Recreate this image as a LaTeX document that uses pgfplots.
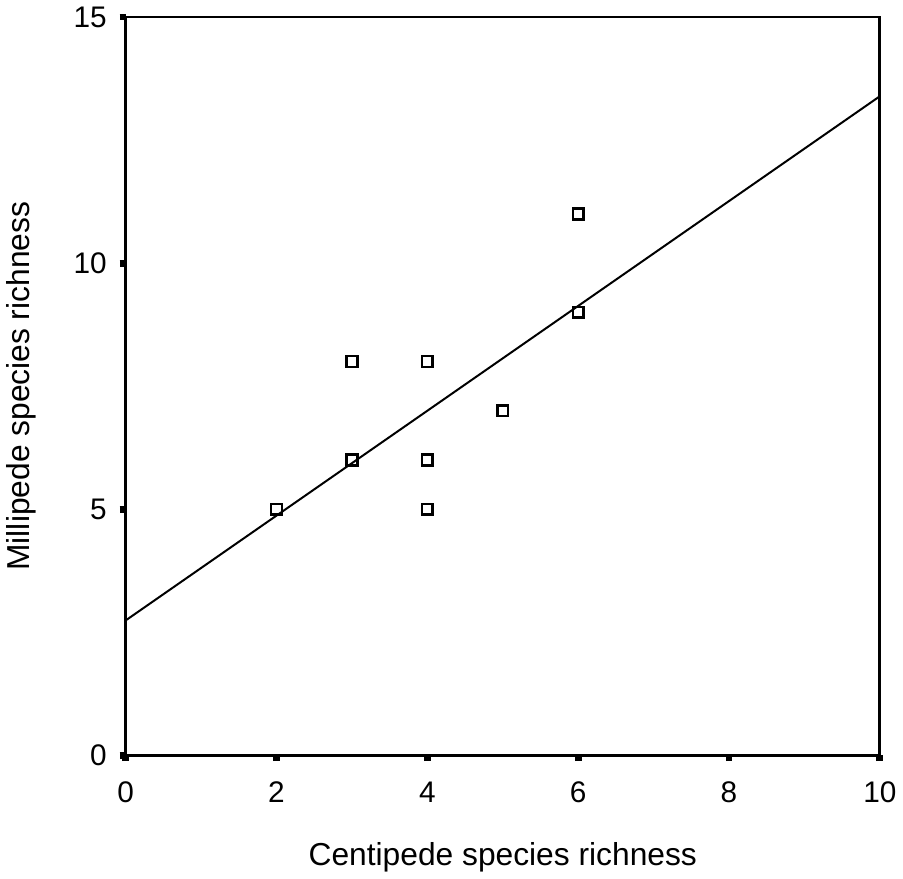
\documentclass[border=0pt]{standalone}
\usepackage{fontspec}
\setmainfont{Liberation Sans}
\usepackage{pgfplots}
\pgfplotsset{compat=1.18}

\begin{document}
\begin{tikzpicture}
\begin{axis}[
    scale only axis,
    width=380pt,
    height=372pt,
    xmin=0, xmax=10,
    ymin=0, ymax=15,
    xtick={0,2,...,10},
    ytick={0,5,10,15},
    axis line style={line width=1.5pt},
    tick style={line width=3.5pt, black},
    major tick length=3pt,
    tick align=outside,
    xtick pos=bottom,
    ytick pos=left,
    tick label style={font=\fontsize{15}{17}\selectfont},
    xticklabel style={yshift=-7pt},
    yticklabel style={xshift=-3pt},
    label style={font=\fontsize{16}{19}\selectfont},
    /pgf/number format/assume math mode=true,
    xlabel={Centipede species richness},
    ylabel={Millipede species richness},
    xlabel style={yshift=-13pt},
    ylabel style={yshift=12pt},
    clip=false,
]
\addplot[only marks, mark=square, mark size=2.7pt, mark options={line width=1.3pt}] coordinates {
(2,5)(3,8)(3,6)(4,8)(4,6)(4,5)(5,7)(6,11)(6,9)
};
\addplot[black, line width=1pt] coordinates {(0,2.74)(10,13.39)};
\end{axis}
\end{tikzpicture}
\end{document}
